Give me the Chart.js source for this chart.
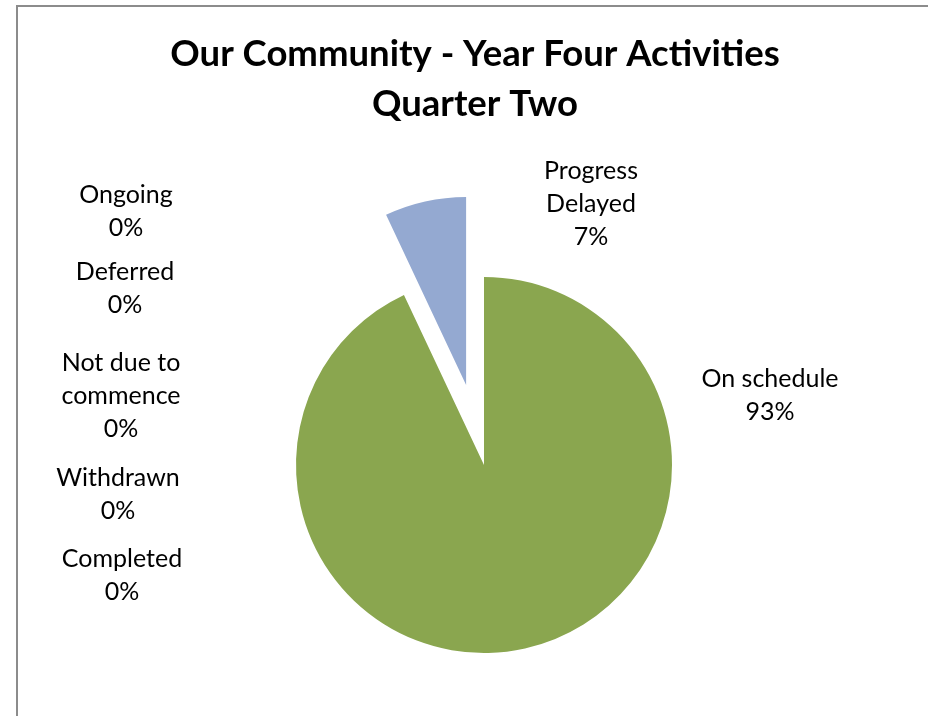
<!DOCTYPE html>
<html>
<head>
<meta charset="utf-8">
<title>Our Community - Year Four Activities</title>
<script src="https://cdn.jsdelivr.net/npm/chart.js@4.4.1/dist/chart.umd.min.js"></script>
<style>
  html, body { margin: 0; padding: 0; background: #fff; overflow: hidden; }
  #wrap { position: relative; width: 928px; height: 716px; }
  #wrap canvas { position: absolute; left: 0; top: 0; }
  #frame {
    position: absolute; left: 16px; top: 5px;
    width: 960px; height: 760px;
    border: 2px solid #8c8c8c;
    pointer-events: none;
  }
</style>
</head>
<body>
<div id="wrap">
  <canvas id="statusChart" width="928" height="716"></canvas>
  <div id="frame"></div>
</div>
<script>
// activity status, year four, quarter two (percent of activities)
const categories = ['On schedule', 'Progress Delayed', 'Ongoing', 'Deferred', 'Not due to commence', 'Withdrawn', 'Completed'];
const shares = [93, 7, 0, 0, 0, 0, 0];
const titleLines = ['Our Community - Year Four Activities', 'Quarter Two'];

// how each category name wraps in its data label
const labelLines = [['On schedule'], ['Progress', 'Delayed'], ['Ongoing'], ['Deferred'], ['Not due to', 'commence'], ['Withdrawn'], ['Completed']];

const sliceColors = ['#8aa64f', '#94a9d1', '#4f81bd', '#c0504d', '#8064a2', '#4bacc6', '#f79646'];
// pulled-out distance per slice, px
const explodeBy = [0, 82, 0, 0, 0, 0, 0];
// label block centre relative to the pie centre, px
const labelAt = [[286, -70], [107, -261], [-358, -254], [-359, -177], [-363, -69], [-366, 29], [-362, 110]];

const FONT = 'Lato, "Open Sans", sans-serif';

// move exploded slices out along their middle angle
const explodePlugin = {
  id: 'explode',
  afterDatasetUpdate(chart, args) {
    args.meta.data.forEach((arc, i) => {
      const d = explodeBy[i] || 0;
      if (!d) return;
      const mid = (arc.startAngle + arc.endAngle) / 2;
      arc.x += Math.cos(mid) * d;
      arc.y += Math.sin(mid) * d;
    });
  }
};

// title and "name / value%" data labels
const textPlugin = {
  id: 'pieText',
  afterDraw(chart) {
    const ctx = chart.ctx;
    const meta = chart.getDatasetMeta(0);
    const cx = (chart.chartArea.left + chart.chartArea.right) / 2;
    const cy = (chart.chartArea.top + chart.chartArea.bottom) / 2;
    const data = chart.data.datasets[0].data;
    const total = data.reduce((a, b) => a + b, 0);

    ctx.save();
    ctx.fillStyle = '#000';
    ctx.textAlign = 'center';
    ctx.textBaseline = 'middle';

    ctx.font = 'bold 36.5px ' + FONT;
    titleLines.forEach((t, k) => ctx.fillText(t, 475, 54 + k * 50));

    ctx.font = '25px ' + FONT;
    const lh = 33;
    meta.data.forEach((arc, i) => {
      const pct = Math.round(data[i] / total * 100) + '%';
      const lines = labelLines[i].concat(pct);
      const x = cx + labelAt[i][0];
      const y0 = cy + labelAt[i][1] - (lines.length - 1) * lh / 2;
      lines.forEach((t, k) => ctx.fillText(t, x, y0 + k * lh));
    });
    ctx.restore();
  }
};

new Chart(document.getElementById('statusChart'), {
  type: 'pie',
  data: {
    labels: categories,
    datasets: [{
      data: shares,
      backgroundColor: sliceColors,
      borderWidth: 0,
      radius: 188
    }]
  },
  options: {
    responsive: false,
    animation: false,
    layout: { padding: { left: 240, right: 200, top: 230, bottom: 16 } },
    plugins: {
      legend: { display: false },
      title: { display: false },
      tooltip: { enabled: false }
    }
  },
  plugins: [explodePlugin, textPlugin]
});
</script>
</body>
</html>
